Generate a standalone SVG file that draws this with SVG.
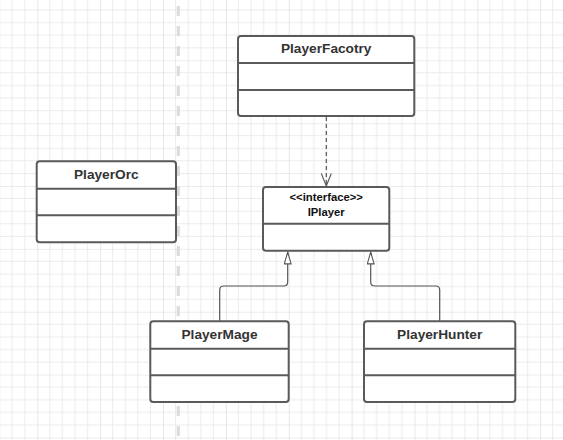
<svg xmlns="http://www.w3.org/2000/svg" width="563" height="440" viewBox="0 0 563 440">
  <style>
    .box { fill: #ffffff; stroke: #5a5a5a; stroke-width: 2; }
    .div { stroke: #5a5a5a; stroke-width: 2; }
    .title { font-family: "Liberation Sans", Arial, sans-serif; font-weight: bold; font-size: 13.7px; fill: #333333; text-anchor: middle; }
    .small { font-family: "Liberation Sans", Arial, sans-serif; font-weight: bold; font-size: 11.3px; fill: #111111; text-anchor: middle; }
    .conn { fill: none; stroke: #555555; stroke-width: 1.2; }
    .dash { stroke-dasharray: 4 3; }
  </style>
  <defs>
    <pattern id="grid" patternUnits="userSpaceOnUse" x="37.3" y="60.3" width="62.86" height="62.86">
      <path d="M12.57,0 V62.86 M25.14,0 V62.86 M37.71,0 V62.86 M50.29,0 V62.86 M0,12.57 H62.86 M0,25.14 H62.86 M0,37.71 H62.86 M0,50.29 H62.86" stroke="#ebebeb" stroke-width="1" fill="none"/>
      <path d="M0,0 V62.86 M0,0 H62.86" stroke="#d9d9d9" stroke-width="1.2" fill="none"/>
    </pattern>
    <marker id="inherit" markerUnits="userSpaceOnUse" viewBox="0 0 13 8" refX="13" refY="4" markerWidth="13" markerHeight="8" orient="auto">
      <path d="M0.6,0.6 L12.4,4 L0.6,7.4 Z" fill="#ffffff" stroke="#555555" stroke-width="1.1"/>
    </marker>
    <marker id="open" markerUnits="userSpaceOnUse" viewBox="0 0 14 12" refX="13" refY="6" markerWidth="14" markerHeight="12" orient="auto">
      <path d="M0.5,1 L13,6 L0.5,11" fill="none" stroke="#555555" stroke-width="1.1"/>
    </marker>
  </defs>

  <rect width="563" height="440" fill="#ffffff"/>
  <rect width="563" height="440" fill="url(#grid)"/>
  <line x1="178.3" y1="6" x2="178.3" y2="440" stroke="#dcdcdc" stroke-width="3.2" stroke-dasharray="10 10"/>

  <g id="connectors">
    <path class="conn dash" d="M326.3,117 V186" marker-end="url(#open)"/>
    <path class="conn" d="M219.7,321 V290 Q219.7,286 223.7,286 H283.7 Q287.7,286 287.7,282 V251.5" marker-end="url(#inherit)"/>
    <path class="conn" d="M439.7,321 V290 Q439.7,286 435.7,286 H374.7 Q370.7,286 370.7,282 V251.5" marker-end="url(#inherit)"/>
  </g>

  <g id="PlayerFacotry">
    <rect class="box" x="238" y="36" width="176.3" height="80" rx="3"/>
    <line class="div" x1="238" y1="63" x2="414.3" y2="63"/>
    <line class="div" x1="238" y1="90" x2="414.3" y2="90"/>
    <text class="title" x="326.2" y="52.5">PlayerFacotry</text>
  </g>

  <g id="PlayerOrc">
    <rect class="box" x="36.7" y="161.3" width="139.3" height="81" rx="3"/>
    <line class="div" x1="36.7" y1="188.7" x2="176" y2="188.7"/>
    <line class="div" x1="36.7" y1="215.3" x2="176" y2="215.3"/>
    <text class="title" x="106.3" y="178.5">PlayerOrc</text>
  </g>

  <g id="IPlayer">
    <rect class="box" x="263" y="187" width="126.3" height="63.7" rx="3"/>
    <line class="div" x1="263" y1="223.7" x2="389.3" y2="223.7"/>
    <text class="small" x="326.2" y="200.5">&lt;&lt;interface&gt;&gt;</text>
    <text class="small" x="326.2" y="215.7">IPlayer</text>
  </g>

  <g id="PlayerMage">
    <rect class="box" x="150.3" y="321.3" width="138.4" height="80.7" rx="3"/>
    <line class="div" x1="150.3" y1="348.7" x2="288.7" y2="348.7"/>
    <line class="div" x1="150.3" y1="375.3" x2="288.7" y2="375.3"/>
    <text class="title" x="219.5" y="338.5">PlayerMage</text>
  </g>

  <g id="PlayerHunter">
    <rect class="box" x="364" y="321.3" width="151.3" height="80.7" rx="3"/>
    <line class="div" x1="364" y1="348.7" x2="515.3" y2="348.7"/>
    <line class="div" x1="364" y1="375.3" x2="515.3" y2="375.3"/>
    <text class="title" x="439.7" y="338.5">PlayerHunter</text>
  </g>
</svg>
